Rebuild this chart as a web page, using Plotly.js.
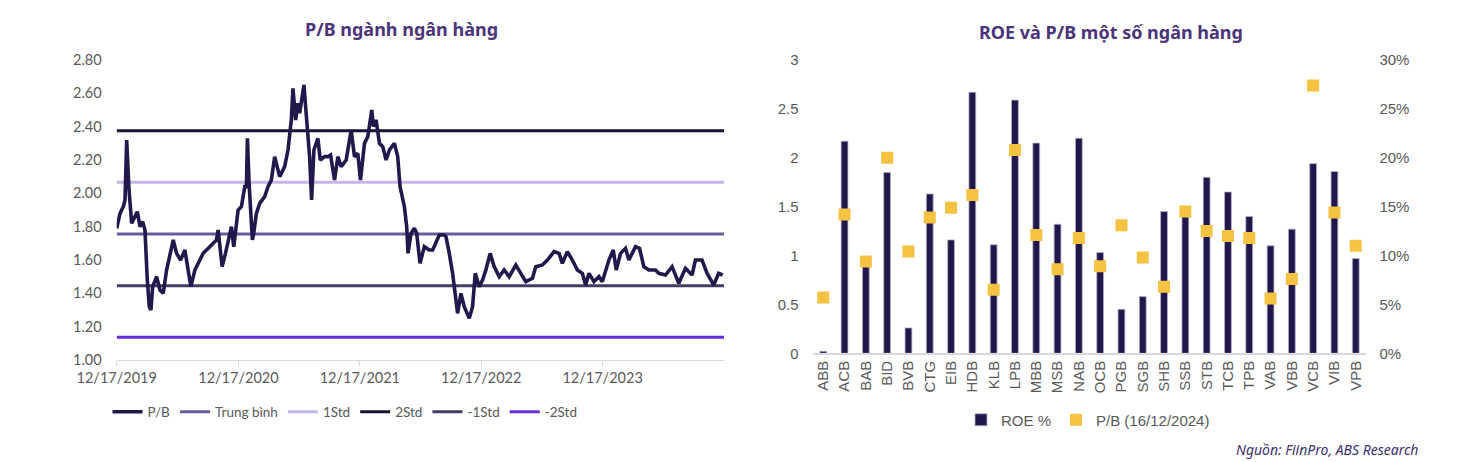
<!DOCTYPE html>
<html>
<head>
<meta charset="utf-8">
<script src="https://cdn.plot.ly/plotly-3.0.1.min.js"></script>
<style>
  html, body { margin: 0; padding: 0; background: #ffffff; }
  #chart { width: 1460px; height: 462px; }
</style>
</head>
<body>
<div id="chart"></div>
<script>
// ---------- Left chart: industry P/B ----------
const pbDates = [
  "2019-12-17","2019-12-27","2020-01-06","2020-01-11","2020-01-16","2020-01-23","2020-01-31","2020-02-10","2020-02-17","2020-02-25",
  "2020-03-04","2020-03-11","2020-03-14","2020-03-18","2020-03-24","2020-03-29","2020-04-03","2020-04-15","2020-04-25","2020-05-05",
  "2020-05-15","2020-05-25","2020-06-04","2020-06-14","2020-06-26","2020-07-09","2020-07-19","2020-07-27","2020-08-08","2020-08-18",
  "2020-09-02","2020-09-22","2020-10-12","2020-10-17","2020-10-29","2020-11-08","2020-11-26","2020-12-03","2020-12-16","2020-12-26",
  "2021-01-05","2021-01-10","2021-01-13","2021-01-18","2021-01-28","2021-02-01","2021-02-09","2021-02-19","2021-03-06","2021-03-16",
  "2021-03-26","2021-04-05","2021-04-20","2021-05-05","2021-05-15","2021-05-25","2021-05-30","2021-06-07","2021-06-14","2021-06-19",
  "2021-07-02","2021-07-07","2021-07-14","2021-07-19","2021-07-25","2021-08-01","2021-08-13","2021-08-20","2021-09-02","2021-09-12",
  "2021-09-20","2021-10-02","2021-10-12","2021-10-22","2021-11-06","2021-11-21","2021-12-01","2021-12-11","2021-12-19","2021-12-31",
  "2022-01-10","2022-01-22","2022-01-27","2022-02-04","2022-02-14","2022-02-24","2022-03-06","2022-03-16","2022-03-31","2022-04-10",
  "2022-04-17","2022-04-30","2022-05-07","2022-05-11","2022-05-20","2022-05-30","2022-06-06","2022-06-16","2022-06-29","2022-07-14",
  "2022-07-24","2022-08-08","2022-08-13","2022-08-28","2022-09-02","2022-09-12","2022-09-22","2022-10-02","2022-10-07","2022-10-17",
  "2022-10-27","2022-11-11","2022-11-21","2022-11-29","2022-12-11","2022-12-21","2022-12-31","2023-01-13","2023-01-25","2023-02-09",
  "2023-02-24","2023-03-11","2023-03-31","2023-04-15","2023-04-30","2023-05-20","2023-05-30","2023-06-19","2023-07-04","2023-07-24",
  "2023-08-08","2023-08-18","2023-09-02","2023-09-17","2023-10-02","2023-10-17","2023-10-27","2023-11-06","2023-11-21","2023-12-06",
  "2023-12-16","2024-01-05","2024-01-18","2024-01-27","2024-02-09","2024-02-24","2024-03-05","2024-03-25","2024-04-06","2024-04-19",
  "2024-05-04","2024-05-24","2024-06-03","2024-06-23","2024-07-13","2024-08-02","2024-08-22","2024-09-11","2024-09-21","2024-10-11",
  "2024-10-26","2024-11-15","2024-11-30","2024-12-12"
];
const pbValues = [
  1.79,1.88,1.92,1.96,2.32,2.02,1.82,1.86,1.89,1.80,
  1.83,1.78,1.62,1.48,1.32,1.30,1.44,1.50,1.42,1.40,
  1.54,1.62,1.72,1.64,1.60,1.66,1.54,1.44,1.54,1.58,
  1.64,1.68,1.72,1.78,1.56,1.64,1.80,1.68,1.90,1.92,
  2.04,2.04,2.33,2.06,1.72,1.76,1.88,1.94,1.98,2.04,
  2.08,2.22,2.10,2.16,2.26,2.44,2.63,2.44,2.54,2.48,
  2.65,2.52,2.32,2.22,1.96,2.26,2.33,2.20,2.22,2.22,
  2.23,2.08,2.22,2.16,2.20,2.38,2.22,2.24,2.08,2.30,
  2.34,2.50,2.40,2.44,2.30,2.28,2.20,2.26,2.30,2.22,
  2.04,1.92,1.80,1.64,1.76,1.79,1.76,1.58,1.68,1.66,
  1.66,1.72,1.75,1.75,1.74,1.64,1.52,1.36,1.28,1.40,
  1.32,1.25,1.32,1.52,1.44,1.48,1.54,1.64,1.56,1.50,
  1.54,1.50,1.57,1.52,1.47,1.49,1.56,1.57,1.60,1.65,
  1.64,1.58,1.65,1.60,1.54,1.52,1.45,1.52,1.47,1.50,
  1.47,1.60,1.66,1.54,1.64,1.67,1.60,1.68,1.67,1.56,
  1.54,1.54,1.52,1.51,1.56,1.46,1.55,1.51,1.60,1.60,
  1.52,1.45,1.52,1.51
];
const bandStart = "2019-12-17";
const bandEnd = "2024-12-16";
const pbMean = 1.756;
const pbPlus1 = 2.066;
const pbPlus2 = 2.376;
const pbMinus1 = 1.446;
const pbMinus2 = 1.136;
const leftYTicks = [1.0,1.2,1.4,1.6,1.8,2.0,2.2,2.4,2.6,2.8];
const leftXTicks = ["2019-12-17","2020-12-17","2021-12-17","2022-12-17","2023-12-17"];
const leftXTickText = ["12/17/2019","12/17/2020","12/17/2021","12/17/2022","12/17/2023"];

// ---------- Right chart: ROE & P/B by bank ----------
const banks = ["ABB","ACB","BAB","BID","BVB","CTG","EIB","HDB","KLB","LPB","MBB","MSB","NAB",
               "OCB","PGB","SGB","SHB","SSB","STB","TCB","TPB","VAB","VBB","VCB","VIB","VPB"];
const roe = [0.002,0.217,0.091,0.185,0.026,0.163,0.116,0.267,0.111,0.259,0.215,0.132,0.220,
             0.103,0.045,0.058,0.145,0.140,0.180,0.165,0.140,0.110,0.127,0.194,0.186,0.097];
const pbBank = [0.57,1.42,0.94,2.00,1.04,1.39,1.49,1.62,0.65,2.08,1.21,0.86,1.18,
                0.89,1.31,0.98,0.68,1.45,1.25,1.20,1.18,0.56,0.76,2.74,1.44,1.10];

const leftFont = "Lato, 'Open Sans', sans-serif";
const titleFont = "'Noto Sans', 'Open Sans', sans-serif";
const rightFont = "'Liberation Sans', Arial, sans-serif";

function band(name, value, color, width) {
  return {
    type: "scatter", mode: "lines", name: name,
    x: [bandStart, bandEnd], y: [value, value],
    xaxis: "x", yaxis: "y", legend: "legend",
    line: { color: color, width: width }, hoverinfo: "skip"
  };
}

const traces = [
  band("Trung bình", pbMean, "#6b5a9c", 3),
  band("1Std", pbPlus1, "#c6b5e8", 3),
  band("2Std", pbPlus2, "#171230", 3),
  band("-1Std", pbMinus1, "#463b60", 3),
  band("-2Std", pbMinus2, "#6530d8", 3),
  {
    type: "scatter", mode: "lines", name: "P/B",
    x: pbDates, y: pbValues, xaxis: "x", yaxis: "y", legend: "legend",
    line: { color: "#23184b", width: 3.6 }
  },
  {
    type: "bar", name: "ROE %", x: banks, y: roe,
    xaxis: "x2", yaxis: "y2", legend: "legend2",
    width: 0.32,
    marker: { color: "#22174a", line: { color: "#b7b0cc", width: 0.8 } }
  },
  {
    type: "scatter", mode: "markers", name: "P/B (16/12/2024)", x: banks, y: pbBank,
    xaxis: "x2", yaxis: "y3", legend: "legend2",
    marker: { symbol: "square", size: 12, color: "#f5c242" }
  }
];

const W = 1460, H = 462;
const layout = {
  width: W, height: H,
  margin: { l: 0, r: 0, t: 0, b: 0 },
  paper_bgcolor: "#ffffff", plot_bgcolor: "rgba(0,0,0,0)",
  showlegend: true,
  font: { family: leftFont, color: "#595959", size: 13 },
  xaxis: {
    type: "date", domain: [116.7 / W, 724 / W], anchor: "y",
    range: [bandStart, bandEnd],
    tickvals: leftXTicks, ticktext: leftXTickText,
    ticks: "outside", ticklen: 5, tickcolor: "#d9d9d9",
    showline: true, linecolor: "#d9d9d9", linewidth: 1,
    showgrid: false, zeroline: false,
    tickfont: { family: leftFont, size: 14.5, color: "#595959" }
  },
  yaxis: {
    domain: [1 - 360 / H, 1 - 60 / H], anchor: "x",
    range: [1.0, 2.8], tickvals: leftYTicks, tickformat: ".2f",
    showgrid: false, zeroline: false, showline: false, ticks: "",
    ticklabelstandoff: 14,
    tickfont: { family: leftFont, size: 14.5, color: "#595959" }
  },
  xaxis2: {
    type: "category", domain: [812.6 / W, 1366.4 / W], anchor: "y2",
    range: [-0.5, 25.5],
    tickangle: -90, ticks: "",
    showline: true, linecolor: "#d9d9d9", linewidth: 1.5,
    showgrid: false, zeroline: false,
    tickfont: { family: rightFont, size: 15, color: "#595959" }
  },
  yaxis2: {
    domain: [1 - 353.3 / H, 1 - 60 / H], anchor: "x2", side: "right",
    range: [0, 0.30], dtick: 0.05, tickformat: ".0%",
    showgrid: false, zeroline: false, showline: false,
    ticklabelstandoff: 12,
    tickfont: { family: rightFont, size: 15, color: "#595959" }
  },
  yaxis3: {
    overlaying: "y2", anchor: "x2", side: "left",
    range: [0, 3], dtick: 0.5, tickformat: "",
    showgrid: false, zeroline: false, showline: false,
    ticklabelstandoff: 13,
    tickfont: { family: rightFont, size: 15, color: "#595959" }
  },
  legend: {
    orientation: "h", x: 345 / W, xanchor: "center", y: 1 - 412 / H, yanchor: "middle",
    traceorder: "normal", itemwidth: 30,
    font: { family: leftFont, size: 13.5, color: "#595959" },
    bgcolor: "rgba(0,0,0,0)"
  },
  legend2: {
    orientation: "h", x: 1088 / W, xanchor: "center", y: 1 - 420 / H, yanchor: "middle",
    traceorder: "normal", itemwidth: 30,
    font: { family: rightFont, size: 15, color: "#595959" },
    bgcolor: "rgba(0,0,0,0)"
  },
  annotations: [
    { text: "<b>P/B ngành ngân hàng</b>", xref: "paper", yref: "paper",
      x: 402 / W, y: 1 - 29 / H, xanchor: "center", yanchor: "middle", showarrow: false,
      font: { family: titleFont, size: 18, color: "#4b3479" } },
    { text: "<b>ROE và P/B một số ngân hàng</b>", xref: "paper", yref: "paper",
      x: 1111 / W, y: 1 - 32 / H, xanchor: "center", yanchor: "middle", showarrow: false,
      font: { family: titleFont, size: 18, color: "#4b3479" } },
    { text: "<i>Nguồn: FiinPro, ABS Research</i>", xref: "paper", yref: "paper",
      x: 1420 / W, y: 1 - 449 / H, xanchor: "right", yanchor: "middle", showarrow: false,
      font: { family: titleFont, size: 14, color: "#3e2f6e" } }
  ]
};

// Legend order on the left: P/B first, then bands
traces[5].legendrank = 1;
traces[0].legendrank = 2;
traces[1].legendrank = 3;
traces[2].legendrank = 4;
traces[3].legendrank = 5;
traces[4].legendrank = 6;

Plotly.newPlot("chart", traces, layout, { staticPlot: true, displayModeBar: false });
</script>
</body>
</html>
